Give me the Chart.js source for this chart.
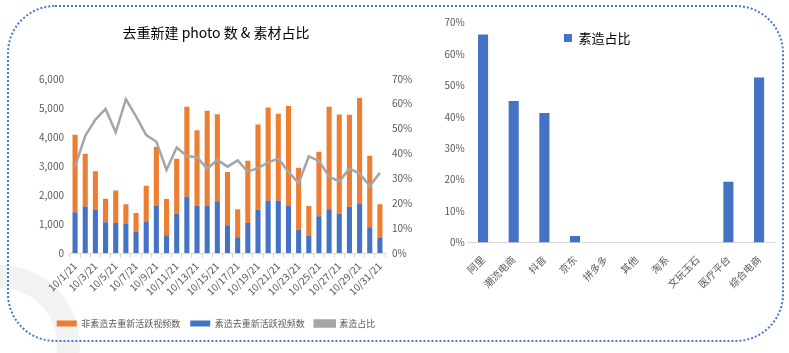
<!DOCTYPE html>
<html><head><meta charset="utf-8">
<script src="https://cdn.jsdelivr.net/npm/chart.js@4/dist/chart.umd.min.js"></script>
<style>
html,body{margin:0;padding:0;background:#fff;width:789px;height:353px;overflow:hidden;}
#ring{position:absolute;left:-80px;top:265px;width:160px;height:160px;border-radius:50%;border:23px solid #f2f2f2;box-sizing:border-box;}
#frame{position:absolute;left:7px;top:5px;width:777px;height:337px;border:2px dotted #4a78c8;border-radius:48px;box-sizing:border-box;}
#c1wrap{position:absolute;left:6px;top:0;width:420px;height:345px;}
#c2wrap{position:absolute;left:420px;top:0;width:369px;height:345px;}
</style>
</head><body>
<div id="ring"></div>
<div id="frame"></div>
<div id="c1wrap"><canvas id="c1" width="420" height="345"></canvas></div>
<div id="c2wrap"><canvas id="c2" width="369" height="345"></canvas></div>
<script>
const dates = ['10/1/21','10/2/21','10/3/21','10/4/21','10/5/21','10/6/21','10/7/21','10/8/21','10/9/21','10/10/21','10/11/21','10/12/21','10/13/21','10/14/21','10/15/21','10/16/21','10/17/21','10/18/21','10/19/21','10/20/21','10/21/21','10/22/21','10/23/21','10/24/21','10/25/21','10/26/21','10/27/21','10/28/21','10/29/21','10/30/21','10/31/21'];
const suzaoVideos = [1400,1600,1490,1060,1030,1010,740,1070,1620,610,1350,1940,1620,1640,1780,960,540,1030,1490,1810,1800,1620,800,600,1270,1510,1360,1590,1690,890,520];
const nonSuzaoVideos = [2670,1820,1330,810,1120,670,640,1250,2040,1250,1900,3100,2610,3260,3000,1830,970,2150,2940,3200,3000,3440,2140,1020,2220,3530,3410,3170,3650,2460,1160];
const suzaoRatio = [0.347,0.471,0.536,0.579,0.485,0.618,0.549,0.474,0.447,0.334,0.424,0.390,0.385,0.339,0.374,0.347,0.372,0.326,0.342,0.363,0.380,0.326,0.281,0.388,0.370,0.307,0.288,0.339,0.319,0.269,0.322];
const leftTicks = [0,1000,2000,3000,4000,5000,6000];
const pctTicks = [0,0.1,0.2,0.3,0.4,0.5,0.6,0.7];

const platforms = ['阿里','潮流电商','抖音','京东','拼多多','其他','淘系','文玩玉石','医疗平台','综合电商'];
const platformRatio = [0.662,0.450,0.412,0.021,0,0,0,0,0.193,0.525];

const FONT = "'Noto Sans CJK SC', 'Noto Sans', sans-serif";
Chart.defaults.font.family = FONT;
Chart.defaults.animation = false;
Chart.defaults.color = '#595959';

const pct = v => Math.round(v*100) + '%';

new Chart(document.getElementById('c1'), {
  data: {
    labels: dates,
    datasets: [
      {type:'bar', label:'素造去重新活跃视频数', data: suzaoVideos, backgroundColor:'#4472C4', yAxisID:'y', stack:'s', barPercentage:0.5, categoryPercentage:1},
      {type:'bar', label:'非素造去重新活跃视频数', data: nonSuzaoVideos, backgroundColor:'#ED7D31', yAxisID:'y', stack:'s', barPercentage:0.5, categoryPercentage:1},
      {type:'line', label:'素造占比', data: suzaoRatio, borderColor:'#A5A5A5', backgroundColor:'#A5A5A5', borderWidth:2.5, pointRadius:0, tension:0, yAxisID:'y1', order:-1}
    ]
  },
  options: {
    responsive:false,
    layout:{padding:{top:0,left:0,right:0,bottom:7}},
    plugins:{
      title:{display:true, text:'去重新建 photo 数 & 素材占比', color:'#000', font:{size:14, weight:'normal', family:FONT}, padding:{top:24,bottom:38}},
      legend:{position:'bottom', labels:{boxWidth:20, boxHeight:6, font:{size:9}, color:'#595959', padding:10,
        sort:(a,b)=>{const r={1:0,0:1,2:2};return r[a.datasetIndex]-r[b.datasetIndex];}}},
      tooltip:{enabled:false}
    },
    scales:{
      x:{stacked:true, grid:{display:true, drawOnChartArea:false, offset:true, tickLength:5, color:'#D9D9D9'}, border:{display:true,color:'#D9D9D9'},
        ticks:{autoSkip:false, maxRotation:45, minRotation:45, font:{size:10}, color:'#595959', padding:2,
          callback:function(v,i){return i%2===0 ? this.getLabelForValue(v) : '';}},
        afterFit(s){s.height=56;}},
      y:{type:'linear', position:'left', stacked:true, min:0, max:6000,
        afterBuildTicks(s){s.ticks = leftTicks.map(v=>({value:v}));},
        ticks:{font:{size:10}, color:'#595959', padding:6, callback:v=>v.toLocaleString('en-US')},
        grid:{display:false, drawTicks:false}, border:{display:false}, afterFit(s){s.width=64;}},
      y1:{type:'linear', position:'right', min:0, max:0.7,
        afterBuildTicks(s){s.ticks = pctTicks.map(v=>({value:v}));},
        ticks:{font:{size:10}, color:'#595959', padding:7, callback:pct},
        grid:{display:false, drawTicks:false}, border:{display:false}, afterFit(s){s.width=41;}}
    }
  }
});

const legendNoSpace = {
  id:'legendNoSpace',
  afterInit(chart){
    const l = chart.legend;
    if(!l) return;
    const f = l.fit.bind(l);
    l.fit = function(){ f(); this._realHeight = this.height; this.height = 0; };
  },
  afterLayout(chart){
    const l = chart.legend;
    if(!l || l._realHeight === undefined) return;
    l.height = l._realHeight;
    l.bottom = l.top + l._realHeight;
  }
};

new Chart(document.getElementById('c2'), {
  type:'bar',
  data:{
    labels: platforms,
    datasets:[{label:'素造占比', data: platformRatio, backgroundColor:'#4472C4', barPercentage:0.33, categoryPercentage:1}]
  },
  plugins:[legendNoSpace],
  options:{
    responsive:false,
    layout:{padding:{top:22.5,left:0,right:14.6,bottom:42.5}},
    plugins:{
      legend:{position:'top', labels:{boxWidth:8, boxHeight:8, font:{size:13}, color:'#000', padding:9}},
      tooltip:{enabled:false}
    },
    scales:{
      x:{grid:{display:false}, border:{display:true, color:'#D9D9D9'},
        ticks:{autoSkip:false, maxRotation:45, minRotation:45, font:{size:10}, color:'#595959', padding:3},
        afterFit(s){s.height=60;}},
      y:{min:0, max:0.7,
        afterBuildTicks(s){s.ticks = pctTicks.map(v=>({value:v}));},
        ticks:{font:{size:10}, color:'#595959', padding:3, callback:pct},
        grid:{display:false, drawTicks:false}, border:{display:false}, afterFit(s){s.width=47.7;}}
    }
  }
});
</script>
</body></html>
